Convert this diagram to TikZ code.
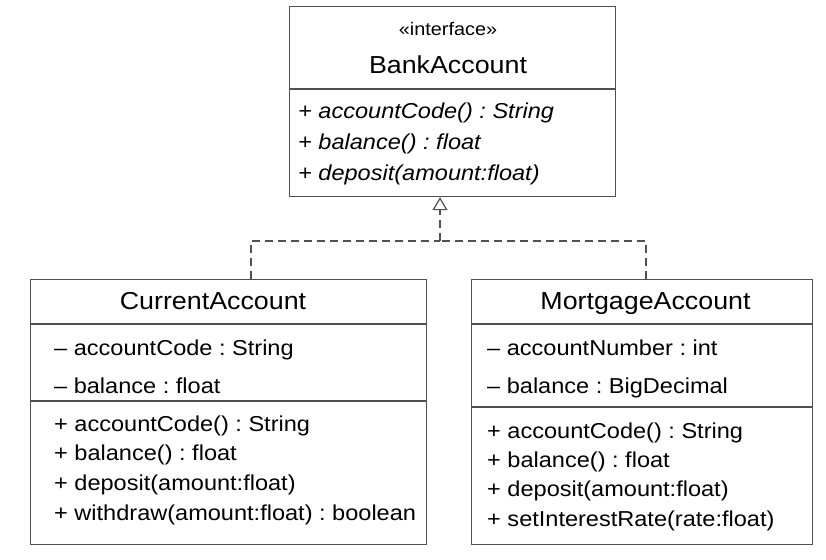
\documentclass[tikz,border=0pt]{standalone}
\usepackage{fontspec}
\setmainfont{Liberation Sans}[FakeStretch=1.09]
\usetikzlibrary{arrows.meta}
\frenchspacing
\definecolor{linec}{HTML}{505050}
\tikzset{
  umlbox/.style={draw=linec, line width=1.2pt, rectangle, inner sep=0pt, anchor=north west},
  divider/.style={draw=linec, line width=1.2pt},
  realize/.style={draw=linec, line width=1.2pt, dash pattern=on 8pt off 5pt},
  titletxt/.style={inner sep=0pt, anchor=base, font=\fontsize{24.6}{30}\selectfont},
  stereo/.style={inner sep=0pt, anchor=base, font=\fontsize{18.2}{22}\selectfont},
  membertxt/.style={inner sep=0pt, anchor=base west, font=\fontsize{21.6}{26}\selectfont},
  abstracttxt/.style={membertxt, font=\fontsize{21.6}{26}\selectfont\itshape},
}
\begin{document}
\begin{tikzpicture}[x=1pt, y=-1pt]
\useasboundingbox (0,0) rectangle (826,559);
\fill[white] (0,0) rectangle (826,559);

% boxes
\node[umlbox, minimum width=326pt, minimum height=190pt] (bank) at (289,6) {};
\node[umlbox, minimum width=396pt, minimum height=265pt] (current) at (30,279) {};
\node[umlbox, minimum width=341pt, minimum height=265pt] (mortgage) at (471,279) {};

% dividers
\draw[divider] (bank.west |- 0,89) -- (bank.east |- 0,89);
\draw[divider] (current.west |- 0,324) -- (current.east |- 0,324);
\draw[divider] (current.west |- 0,401) -- (current.east |- 0,401);
\draw[divider] (mortgage.west |- 0,324) -- (mortgage.east |- 0,324);
\draw[divider] (mortgage.west |- 0,407) -- (mortgage.east |- 0,407);

% BankAccount texts
\node[stereo] (bstereo) at (448,36) {«interface»};
\node[titletxt] (btitle) at (448,74) {BankAccount};
\node[abstracttxt] (bm1) at (298,118.5) {+ accountCode() : String};
\node[abstracttxt] (bm2) at (298,149.5) {+ balance() : float};
\node[abstracttxt] (bm3) at (298,180) {+ deposit(amount:float)};

% CurrentAccount texts
\node[titletxt] (ctitle) at (213,309.3) {CurrentAccount};
\node[membertxt] (ca1) at (54,355.7) {– accountCode : String};
\node[membertxt] (ca2) at (54,393.3) {– balance : float};
\node[membertxt] (cm1) at (54,431.7) {+ accountCode() : String};
\node[membertxt] (cm2) at (54,460.7) {+ balance() : float};
\node[membertxt] (cm3) at (54,490) {+ deposit(amount:float)};
\node[membertxt] (cm4) at (54,520) {+ withdraw(amount:float) : boolean};

% MortgageAccount texts
\node[titletxt] (mtitle) at (645.5,309.3) {MortgageAccount};
\node[membertxt] (ma1) at (487,355.7) {– accountNumber : int};
\node[membertxt] (ma2) at (487,393.3) {– balance : BigDecimal};
\node[membertxt] (mm1) at (487,438.3) {+ accountCode() : String};
\node[membertxt] (mm2) at (487,467.3) {+ balance() : float};
\node[membertxt] (mm3) at (487,496.7) {+ deposit(amount:float)};
\node[membertxt] (mm4) at (487,526.7) {+ setInterestRate(rate:float)};

% realization connectors
\coordinate (join) at (440,241);
\coordinate (cl) at (251,0);
\coordinate (mr) at (646,0);
\draw[realize] (current.north -| cl) |- (join);
\draw[realize] (mortgage.north -| mr) |- (join);
\draw[realize, -{Triangle[open, length=13pt, width=15pt, line width=1.2pt]}] (join) -- (join |- bank.south);
\end{tikzpicture}
\end{document}
